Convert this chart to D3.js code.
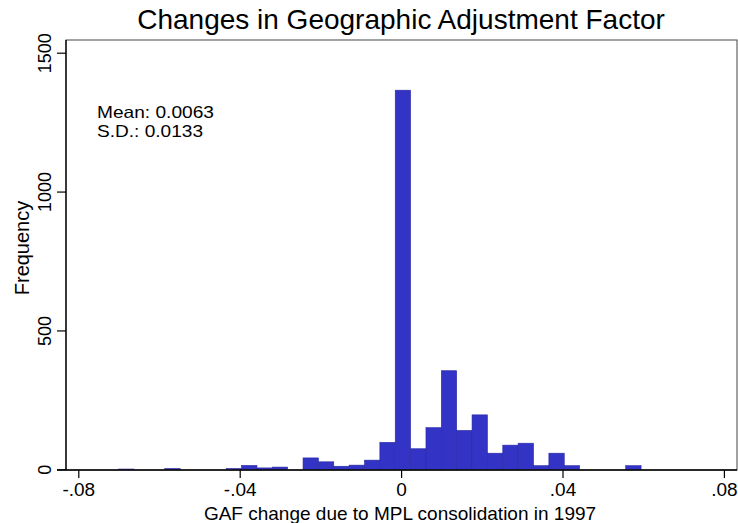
<!DOCTYPE html>
<meta charset="utf-8">
<script src="https://d3js.org/d3.v7.min.js"></script>
<style>
  body { margin: 0; background: #fff; }
  text { font-family: "Liberation Sans", Arial, Helvetica, sans-serif; fill: #000; }
</style>
<svg width="738" height="523"></svg>
<script>
// histogram: 34 bins starting at the minimum value
var binStart = -0.0700;
var binWidth = 0.003808;
var counts = [1, 0, 0, 3, 0, 0, 0, 3, 14, 5, 8, 0, 41, 27, 11, 15, 33, 97,
              1365, 74, 150, 355, 140, 196, 58, 87, 94, 13, 58, 13, 0, 0, 0, 13];
var xTicks = [-0.08, -0.04, 0, 0.04, 0.08];
var xTickLabels = ["-.08", "-.04", "0", ".04", ".08"];
var yTicks = [0, 500, 1000, 1500];
var statLines = ["Mean: 0.0063", "S.D.: 0.0133"];

var svg = d3.select("svg");
var plotL = 66, plotR = 737, plotT = 40, plotB = 470;

var x = d3.scaleLinear().domain([-0.08, 0.08]).range([78.3, 723.9]);
var y = d3.scaleLinear().domain([0, 1500]).range([469.3, 52.7]);

// plot region outline
svg.append("rect")
    .attr("x", plotL).attr("y", plotT)
    .attr("width", plotR - plotL).attr("height", plotB - plotT)
    .attr("fill", "none").attr("stroke", "#444").attr("stroke-width", 1);

var bins = counts.map(function (c, i) {
    return {x0: binStart + i * binWidth, x1: binStart + (i + 1) * binWidth, n: c};
});

svg.append("g").selectAll("rect")
    .data(bins.filter(function (d) { return d.n > 0; }))
    .enter().append("rect")
    .attr("x", function (d) { return x(d.x0); })
    .attr("width", function (d) { return x(d.x1) - x(d.x0); })
    .attr("y", function (d) { return y(d.n); })
    .attr("height", function (d) { return y(0) - y(d.n); })
    .attr("fill", "#3333c6")
    .attr("stroke", "#2a2aa6")
    .attr("stroke-width", 0.6);

// x axis
var xAxis = svg.append("g")
    .attr("transform", "translate(0," + plotB + ")")
    .call(d3.axisBottom(x).tickValues(xTicks)
        .tickFormat(function (d, i) { return xTickLabels[i]; })
        .tickSize(8).tickPadding(5));
xAxis.select(".domain").remove();
xAxis.append("line").attr("x1", plotL - 9).attr("x2", plotR)
    .attr("stroke", "#000").attr("stroke-width", 1.3);
xAxis.selectAll(".tick line").attr("stroke", "#000").attr("stroke-width", 1.2);
xAxis.selectAll(".tick text")
    .style("font-family", '"Liberation Sans", Arial, sans-serif')
    .style("font-size", "19px");

// y axis
var yAxis = svg.append("g")
    .attr("transform", "translate(" + plotL + ",0)")
    .call(d3.axisLeft(y).tickValues(yTicks).tickFormat(d3.format("d")).tickSize(9).tickPadding(0));
yAxis.select(".domain").remove();
yAxis.append("line").attr("y1", plotT).attr("y2", plotB)
    .attr("stroke", "#000").attr("stroke-width", 1.3);
yAxis.selectAll(".tick line").attr("stroke", "#000").attr("stroke-width", 1.2);
yAxis.selectAll(".tick text")
    .attr("x", 0).attr("y", -15).attr("dy", null)
    .attr("transform", "rotate(-90)")
    .attr("text-anchor", "middle")
    .style("font-family", '"Liberation Sans", Arial, sans-serif')
    .style("font-size", "18px");

// titles
svg.append("text")
    .attr("x", 401).attr("y", 29)
    .attr("text-anchor", "middle")
    .style("font-size", "28px")
    .text("Changes in Geographic Adjustment Factor");

svg.append("text")
    .attr("x", 400).attr("y", 520)
    .attr("text-anchor", "middle")
    .style("font-size", "19px")
    .text("GAF change due to MPL consolidation in 1997");

svg.append("text")
    .attr("transform", "translate(29,248) rotate(-90)")
    .attr("text-anchor", "middle")
    .style("font-size", "20px")
    .text("Frequency");

// stats box text, stretched a bit to the reference width
svg.append("g").selectAll("text")
    .data(statLines)
    .enter().append("text")
    .attr("x", 97)
    .attr("y", function (d, i) { return 118 + i * 19; })
    .attr("textLength", function (d, i) { return i === 0 ? 117 : 106; })
    .attr("lengthAdjust", "spacingAndGlyphs")
    .style("font-size", "16.5px")
    .text(function (d) { return d; });
</script>
